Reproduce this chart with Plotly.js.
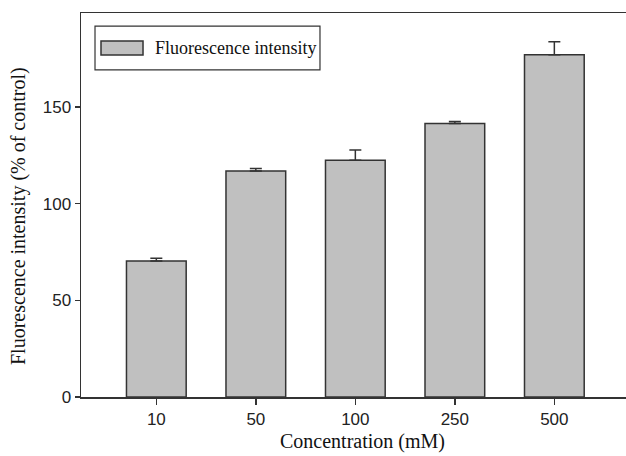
<!DOCTYPE html>
<html>
<head>
<meta charset="utf-8">
<script src="https://cdn.plot.ly/plotly-3.0.1.min.js"></script>
<style>html,body{margin:0;padding:0;background:#fff;}#chart{width:626px;height:456px;}</style>
</head>
<body>
<div id="chart"></div>
<script>
var categories = ["10", "50", "100", "250", "500"];
var values = [70.3, 116.9, 122.5, 141.5, 177.0];
var errors = [1.4, 1.3, 5.2, 1.0, 6.7];
var seriesName = "Fluorescence intensity";
var yTicks = [0, 50, 100, 150];

var lineColor = "#333333";
var serif = "'Liberation Serif', 'Times New Roman', serif";
var sans = "'Liberation Sans', Arial, sans-serif";

var trace = {
  type: "bar",
  x: categories,
  y: values,
  name: seriesName,
  width: 0.6,
  marker: { color: "#c0c0c0", line: { color: lineColor, width: 1.5 } },
  error_y: {
    type: "data",
    array: errors,
    arrayminus: errors.map(function () { return 0; }),
    symmetric: false,
    color: lineColor,
    thickness: 1.5,
    width: 6
  },
  showlegend: false
};

var layout = {
  width: 626,
  height: 456,
  margin: { l: 81, r: 0, t: 13, b: 59 },
  paper_bgcolor: "#fff",
  plot_bgcolor: "#fff",
  bargap: 0.4,
  xaxis: {
    type: "category",
    range: [-0.757, 4.72],
    showline: true,
    mirror: true,
    linecolor: lineColor,
    linewidth: 1.5,
    ticks: "outside",
    ticklen: 6,
    tickwidth: 1.5,
    tickcolor: lineColor,
    showgrid: false,
    zeroline: false,
    tickfont: { family: sans, size: 17, color: "#222" }
  },
  yaxis: {
    range: [0, 198.6],
    tickvals: yTicks,
    showline: true,
    linecolor: lineColor,
    linewidth: 1.5,
    ticks: "outside",
    ticklen: 5,
    tickwidth: 1.5,
    tickcolor: lineColor,
    showgrid: false,
    zeroline: false,
    tickfont: { family: sans, size: 17, color: "#222" }
  },
  shapes: [
    { type: "rect", xref: "paper", yref: "paper", x0: 0.0257, x1: 0.4385, y0: 0.852, y1: 0.966,
      line: { color: lineColor, width: 1.2 }, fillcolor: "#fff" },
    { type: "rect", xref: "paper", yref: "paper", x0: 0.0367, x1: 0.1138, y0: 0.8906, y1: 0.927,
      line: { color: lineColor, width: 1.5 }, fillcolor: "#c0c0c0" }
  ],
  annotations: [
    { xref: "paper", yref: "paper", x: 0.132, y: 0.909, xanchor: "left", yanchor: "middle",
      text: seriesName, showarrow: false, font: { family: serif, size: 18, color: "#111" } },
    { xref: "paper", yref: "paper", x: (362.5 - 81) / 545, y: (397 - 441) / 384, xanchor: "center", yanchor: "middle",
      text: "Concentration (mM)", showarrow: false, font: { family: serif, size: 20, color: "#111" } },
    { xref: "paper", yref: "paper", x: (19 - 81) / 545, y: (397 - 216) / 384, xanchor: "center", yanchor: "middle",
      text: "Fluorescence intensity (% of control)", textangle: -90, showarrow: false,
      font: { family: serif, size: 20, color: "#111" } }
  ]
};

Plotly.newPlot("chart", [trace], layout, { displayModeBar: false, staticPlot: true });
</script>
</body>
</html>
